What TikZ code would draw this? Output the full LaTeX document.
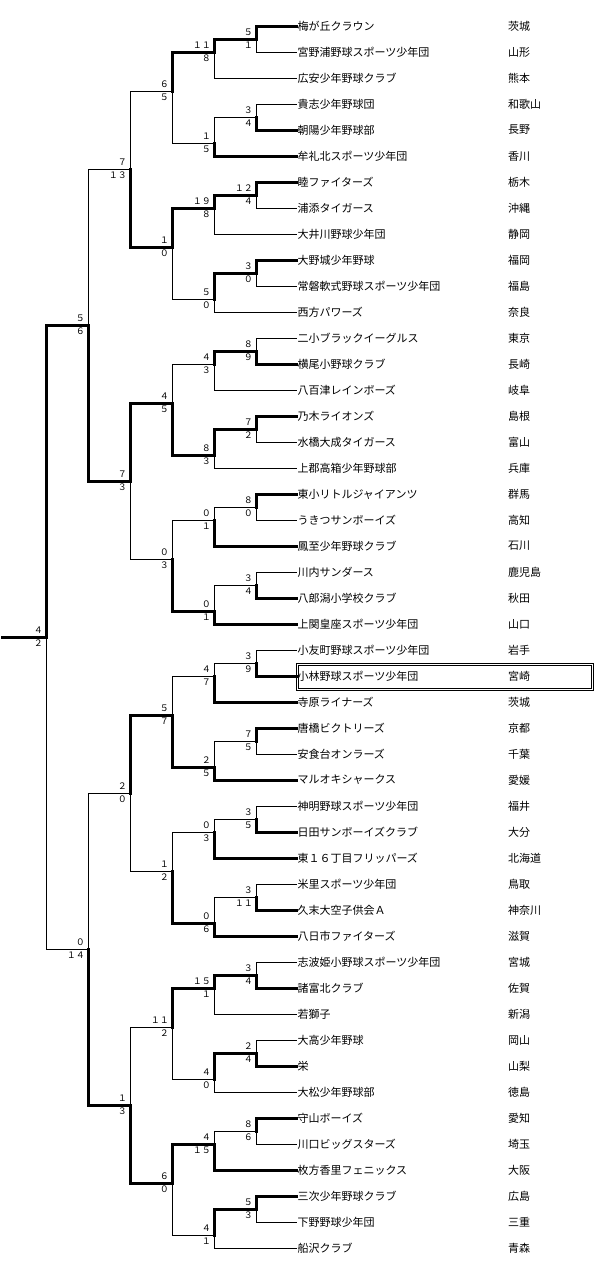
\documentclass[tikz,border=0pt]{standalone}
\usepackage{fontspec}
\setmainfont{Noto Sans CJK JP}
\tikzstyle{bracket} = [draw, line width=1pt, line cap=rect]
\tikzstyle{winner} = [draw, line width=3pt, line cap=rect]
\tikzstyle{team} = [anchor=west, inner sep=0pt, outer sep=1.5pt, font=\fontsize{11}{11}\selectfont]
\tikzstyle{area} = [anchor=west, inner sep=0pt, font=\fontsize{11}{11}\selectfont]
\tikzstyle{score} = [inner sep=0pt, font=\fontsize{9}{9}\selectfont]
\tikzstyle{hiscore} = [score, anchor=south east, xshift=-3pt, yshift=3pt]
\tikzstyle{loscore} = [score, anchor=north east, xshift=-3pt, yshift=-3pt]
\tikzstyle{hilite} = [draw=black, double=white, double distance=1.4pt, line width=1pt, minimum width=295pt, minimum height=25pt, inner sep=0pt]

\begin{document}
\begin{tikzpicture}[x=1pt, y=-1pt]
    \useasboundingbox (0,0) rectangle (614,1288);
    % The box round the home team
    \node[hilite] (box) at (445,677) {};
    % First we draw the teams and their prefectures
    \foreach \name/\home [count=\k] in {梅が丘クラウン/茨城, 宮野浦野球スポーツ少年団/山形, 広安少年野球クラブ/熊本, 貴志少年野球団/和歌山, 朝陽少年野球部/長野, 牟礼北スポーツ少年団/香川, 睦ファイターズ/栃木, 浦添タイガース/沖縄, 大井川野球少年団/静岡, 大野城少年野球/福岡, 常磐軟式野球スポーツ少年団/福島, 西方パワーズ/奈良, 二小ブラックイーグルス/東京, 横尾小野球クラブ/長崎, 八百津レインボーズ/岐阜, 乃木ライオンズ/島根, 水橋大成タイガース/富山, 上郡高箱少年野球部/兵庫, 東小リトルジャイアンツ/群馬, うきつサンボーイズ/高知, 鳳至少年野球クラブ/石川, 川内サンダース/鹿児島, 八郎潟小学校クラブ/秋田, 上関皇座スポーツ少年団/山口, 小友町野球スポーツ少年団/岩手, 小林野球スポーツ少年団/宮崎, 寺原ライナーズ/茨城, 唐橋ビクトリーズ/京都, 安食台オンラーズ/千葉, マルオキシャークス/愛媛, 神明野球スポーツ少年団/福井, 日田サンボーイズクラブ/大分, 東１６丁目フリッパーズ/北海道, 米里スポーツ少年団/鳥取, 久末大空子供会Ａ/神奈川, 八日市ファイターズ/滋賀, 志波姫小野球スポーツ少年団/宮城, 諸富北クラブ/佐賀, 若獅子/新潟, 大高少年野球/岡山, 栄/山梨, 大松少年野球部/徳島, 守山ボーイズ/愛知, 川口ビッグスターズ/埼玉, 枚方香里フェニックス/大阪, 三次少年野球クラブ/広島, 下野野球少年団/三重, 船沢クラブ/青森}
    {
        \node[team] (t\k) at (296,26*\k) {\name};
        \node[area] (p\k) at (508,26*\k) {\home};
    }

    % Then the points where the matches are decided
    \foreach \pos/\name in {{(256,39)/q1}, {(256,117)/q2}, {(256,195)/q3}, {(256,273)/q4}, {(256,351)/q5}, {(256,429)/q6}, {(256,507)/q7}, {(256,585)/q8}, {(256,663)/q9}, {(256,741)/q10}, {(256,819)/q11}, {(256,897)/q12}, {(256,975)/q13}, {(256,1053)/q14}, {(256,1131)/q15}, {(256,1209)/q16},
        {(214,52)/s1}, {(214,143)/s2}, {(214,208)/s3}, {(214,299)/s4}, {(214,364)/s5}, {(214,455)/s6}, {(214,520)/s7}, {(214,611)/s8}, {(214,676)/s9}, {(214,767)/s10}, {(214,832)/s11}, {(214,923)/s12}, {(214,988)/s13}, {(214,1079)/s14}, {(214,1144)/s15}, {(214,1235)/s16},
        {(172,91)/u1}, {(172,247)/u2}, {(172,403)/u3}, {(172,559)/u4}, {(172,715)/u5}, {(172,871)/u6}, {(172,1027)/u7}, {(172,1183)/u8},
        {(130,169)/v1}, {(130,481)/v2}, {(130,793)/v3}, {(130,1105)/v4},
        {(88,325)/w1}, {(88,949)/w2}, {(46,637)/f}, {(2,637)/champ}}
        \node[coordinate] (\name) at \pos {};

    % Connect teams and matches with thin lines
    \foreach \a/\b/\c/\g in {1/2/3/1, 4/5/6/2, 7/8/9/3, 10/11/12/4, 13/14/15/5, 16/17/18/6, 19/20/21/7, 22/23/24/8, 25/26/27/9, 28/29/30/10, 31/32/33/11, 34/35/36/12, 37/38/39/13, 40/41/42/14, 43/44/45/15, 46/47/48/16}
    {
        \path[bracket] (t\a.west) -- (t\a.west -| q\g) -- (q\g);
        \path[bracket] (t\b.west) -- (t\b.west -| q\g) -- (q\g);
        \path[bracket] (q\g) -- (q\g -| s\g) -- (s\g);
        \path[bracket] (t\c.west) -- (t\c.west -| s\g) -- (s\g);
    }
    \foreach \source/\dest in {s1/u1, s2/u1, s3/u2, s4/u2, s5/u3, s6/u3, s7/u4, s8/u4, s9/u5, s10/u5, s11/u6, s12/u6, s13/u7, s14/u7, s15/u8, s16/u8, u1/v1, u2/v1, u3/v2, u4/v2, u5/v3, u6/v3, u7/v4, u8/v4, v1/w1, v2/w1, v3/w2, v4/w2, w1/f, w2/f}
        \path[bracket] (\source) -- (\source -| \dest) -- (\dest);

    % The way of each winner in thick lines
    \foreach \source/\dest in {t1.west/q1, q1/s1, t5.west/q2, t6.west/s2, s1/u1, u2/v1,
        t7.west/q3, q3/s3, t10.west/q4, q4/s4, s3/u2, v2/w1,
        t14.west/q5, q5/s5, t16.west/q6, q6/s6, s6/u3, u3/v2,
        t19.west/q7, t21.west/s7, t23.west/q8, t24.west/s8, s8/u4, w1/f,
        t26.west/q9, t27.west/s9, t28.west/q10, t30.west/s10, s10/u5, u5/v3,
        t32.west/q11, t33.west/s11, t35.west/q12, t36.west/s12, s12/u6, v4/w2,
        t38.west/q13, q13/s13, t41.west/q14, q14/s14, s13/u7, u8/v4,
        t43.west/q15, t45.west/s15, t46.west/q16, q16/s16, s15/u8}
        \path[winner] (\source) -- (\source -| \dest) -- (\dest);
    \path[winner] (f) -- (champ);

    % Scores above and below each line
    \foreach \m/\hi/\lo in {q1/５/１, s1/１１/８, q2/３/４, s2/１/５, u1/６/５, v1/７/１３, q3/１２/４, s3/１９/８, q4/３/０, s4/５/０, u2/１/０, w1/５/６, q5/８/９, s5/４/３, q6/７/２, s6/８/３, u3/４/５, v2/７/３, q7/８/０, s7/０/１, q8/３/４, s8/０/１, u4/０/３, f/４/２, q9/３/９, s9/４/７, q10/７/５, s10/２/５, u5/５/７, v3/２/０, q11/３/５, s11/０/３, q12/３/１１, s12/０/６, u6/１/２, w2/０/１４, q13/３/４, s13/１５/１, q14/２/４, s14/４/０, u7/１１/２, v4/１/３, q15/８/６, s15/４/１５, q16/５/３, s16/４/１, u8/６/０}
    {
        \node[hiscore] (\m-hi) at (\m) {\hi};
        \node[loscore] (\m-lo) at (\m) {\lo};
    }
\end{tikzpicture}
\end{document}
